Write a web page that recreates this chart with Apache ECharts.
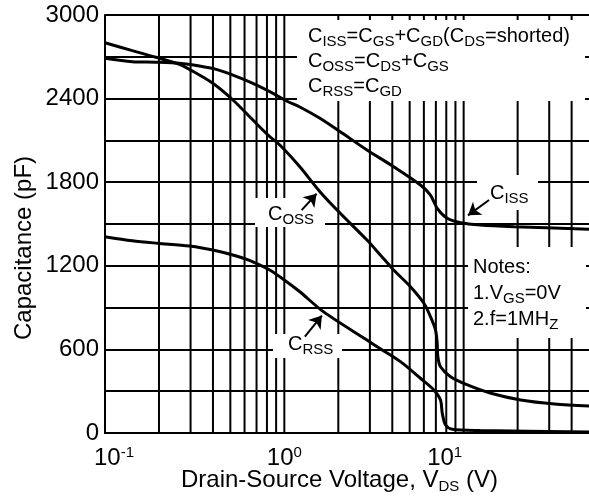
<!DOCTYPE html>
<html><head><meta charset="utf-8">
<script src="https://cdn.jsdelivr.net/npm/echarts@6/dist/echarts.min.js"></script>
<style>html,body{margin:0;padding:0;background:#fff}#c{width:589px;height:497px}</style>
</head><body><div id="c"></div>
<script>
const FONT = '"Liberation Sans", Arial, Helvetica, sans-serif';

// Data (VDS in volts, capacitance in pF)
const cissV = [0.1,0.142,0.192,0.26,0.336,0.417,0.517,0.668,0.866,1.03,1.22,1.58,2.05,2.89,4.07,5.74,6.53,7.12,8.1,9.62,12.4,19.1,50];
const cissC = [2689,2665,2661,2653,2634,2610,2569,2510,2438,2383,2340,2259,2162,2031,1911,1780,1708,1613,1541,1509,1493,1481,1462];
const cossV = [0.1,0.142,0.192,0.26,0.2955,0.399,0.517,0.668,0.829,0.944,1.22,1.58,2.05,2.89,3.43,4.07,5.05,6.0,6.53,6.97,7.12,7.18,7.43,8.45,10.5,14.2,20.8,32.1,50];
const cossC = [2801,2744,2697,2646,2610,2510,2390,2246,2127,2067,1911,1732,1577,1385,1278,1170,1050,931,835,739,644,548,476,404,345,285,237,208,194];
const crssV = [0.1,0.142,0.196,0.2955,0.417,0.54,0.668,0.829,1.03,1.22,1.65,2.89,3.43,4.44,5.74,6.82,7.43,7.6,7.93,8.64,12.4,50];
const crssC = [1409,1380,1362,1342,1308,1270,1229,1170,1086,1014,871,667,605,512,393,309,237,141,57,27,18,8];

// Axis ticks
const yTicks = [0, 600, 1200, 1800, 2400, 3000];
const yGridStep = 300;
const xLabelTicks = [0.1, 1, 10];
const xGrid = [0.2,0.3,0.4,0.5,0.6,0.7,0.8,0.9,1,2,3,4,5,6,7,8,9,10,20,30,40];

// Arrow annotations [from, to] in data coordinates
const arrows = [
  [[1.249,1600],[1.513,1717]],
  [[13.86,1672],[10.57,1562]],
  [[1.302,691],[1.62,843]]
];

const chart = echarts.init(document.getElementById('c'), null, {renderer:'canvas'});

const mainRich = {
  m: {fontSize:20, lineHeight:25, fontFamily:FONT, color:'#000'},
  s: {fontSize:15, lineHeight:18, verticalAlign:'bottom', fontFamily:FONT, color:'#000'}
};

function box(x,y,w,h){
  return {type:'rect', z:5, silent:true, shape:{x:x,y:y,width:w,height:h}, style:{fill:'#fff'}};
}
function txt(x,y,text,lh){
  const rich = JSON.parse(JSON.stringify(mainRich));
  if (lh) rich.m.lineHeight = lh;
  return {type:'text', z:6, silent:true, x:x, y:y, style:{text:text, rich:rich, align:'left', verticalAlign:'top', font:'20px '+FONT, fill:'#000'}};
}

const gridSeries = xGrid.map(x => ({
  type:'line', data:[[x,0],[x,3000]], symbol:'none', silent:true, z:1,
  lineStyle:{color:'#000', width:2}, animation:false
}));

function curve(name, xs, ys, extra){
  return Object.assign({
    type:'line', name:name, data:xs.map((x,i)=>[x,ys[i]]), symbol:'none', smooth:0.3,
    silent:true, z:10, lineStyle:{color:'#000', width:3}, animation:false
  }, extra||{});
}

const option = {
  animation:false,
  grid:{left:105, right:0, top:15, bottom:64, containLabel:false, outerBoundsMode:'none'},
  xAxis:{
    type:'log', logBase:10, min:0.1, max:50,
    axisLine:{show:true, lineStyle:{color:'#000', width:2}},
    axisTick:{show:false},
    splitLine:{show:false},
    axisLabel:{
      margin:12, color:'#000',
      formatter:function(v){
        const e = Math.log10(v), r = Math.round(e);
        if (Math.abs(e-r) > 1e-6) return '';
        if (!xLabelTicks.some(t => Math.abs(Math.log10(t)-r) < 1e-6)) return '';
        const base = '{b|10}{sup|' + (r<0 ? '-'+(-r) : r) + '}';
        if (r === -1) return '{padL| }' + base;
        if (r === 1) return base + '{padR| }';
        return base;
      },
      rich:{
        b:{fontSize:24, lineHeight:26, fontFamily:FONT, color:'#000'},
        sup:{fontSize:15, lineHeight:17, verticalAlign:'top', fontFamily:FONT, color:'#000'},
        padL:{width:18, fontSize:15},
        padR:{width:38, fontSize:15}
      }
    },
    name:'{m|Drain-Source Voltage, V}{s|DS}{m| (V)}',
    nameLocation:'middle', nameGap:33, nameMoveOverlap:false,
    nameTextStyle:{
      padding:[0,15,0,0],
      rich:{
        m:{fontSize:24, lineHeight:28, fontFamily:FONT, color:'#000'},
        s:{fontSize:15, lineHeight:20, verticalAlign:'bottom', fontFamily:FONT, color:'#000'}
      }
    }
  },
  yAxis:{
    type:'value', min:0, max:3000, interval:yGridStep,
    axisLine:{show:true, lineStyle:{color:'#000', width:2}},
    axisTick:{show:false},
    splitLine:{show:true, lineStyle:{color:'#000', width:2}},
    axisLabel:{
      margin:6, color:'#000', fontSize:24, fontFamily:FONT,
      formatter:function(v){ return yTicks.indexOf(v) >= 0 ? String(v) : ''; }
    },
    name:'Capacitance (pF)', nameLocation:'middle', nameGap:69, nameMoveOverlap:false,
    nameTextStyle:{fontSize:24, fontFamily:FONT, color:'#000', padding:[0,48,0,0]}
  },
  graphic:{elements:[
    box(297,20,288,81),
    txt(308,24,'{m|C}{s|ISS}{m|=C}{s|GS}{m|+C}{s|GD}{m|(C}{s|DS}{m|=shorted)}\n{m|C}{s|OSS}{m|=C}{s|DS}{m|+C}{s|GS}\n{m|C}{s|RSS}{m|=C}{s|GD}'),
    box(468,247,118,91),
    txt(473,254,'{m|Notes:}\n{m|1.V}{s|GS}{m|=0V}\n{m|2.f=1MH}{s|Z}',26),
    box(255,198,70,29),
    txt(268,202,'{m|C}{s|OSS}'),
    box(477,175,61,35),
    txt(490,181,'{m|C}{s|ISS}'),
    box(273,334,69,24),
    txt(288,332,'{m|C}{s|RSS}')
  ]},
  series: gridSeries.concat([
    curve('Ciss', cissV, cissC),
    curve('Coss', cossV, cossC),
    curve('Crss', crssV, crssC, {
      markLine:{
        silent:true, animation:false, symbol:['none','arrow'], symbolSize:12,
        label:{show:false},
        lineStyle:{color:'#000', width:2, type:'solid'},
        emphasis:{disabled:true},
        data: arrows.map(a => [{coord:a[0]},{coord:a[1]}])
      }
    })
  ])
};
chart.setOption(option);
</script>
</body></html>
